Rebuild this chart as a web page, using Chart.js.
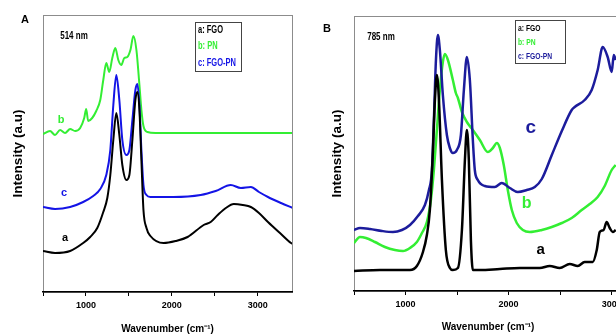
<!DOCTYPE html>
<html>
<head>
<meta charset="utf-8">
<script src="https://cdn.jsdelivr.net/npm/chart.js@4.4.0/dist/chart.umd.min.js"></script>
<style>
html, body { margin: 0; padding: 0; background: #fff; overflow: hidden; }
#wrap { position: relative; width: 616px; height: 335px; overflow: hidden; }
#ca { position: absolute; left: 0; top: 0; }
#cb { position: absolute; left: 308px; top: 0; }
</style>
</head>
<body>
<div id="wrap">
  <canvas id="ca" width="308" height="335"></canvas>
  <canvas id="cb" width="330" height="335"></canvas>
</div>
<script>
// Panel A, 514 nm excitation
var waveA_FGO = [500, 640, 816, 968, 1050, 1132, 1202, 1249, 1284, 1319, 1354, 1389, 1424, 1471, 1506, 1541, 1576, 1599, 1623, 1646, 1670, 1705, 1751, 1904, 2044, 2184, 2371, 2453, 2535, 2629, 2722, 2827, 2921, 3015, 3120, 3272, 3389, 3412];
var intA_FGO = [41, 39, 41, 49, 55, 64, 80, 94, 117, 152, 179, 157, 127, 112, 117, 152, 192, 200, 182, 132, 82, 64, 56, 49, 51, 55, 67, 70, 77, 84, 88, 87, 85, 79, 70, 58, 49, 48];

var waveA_PN = [500, 582, 640, 699, 757, 816, 874, 933, 980, 1003, 1026, 1073, 1120, 1167, 1202, 1237, 1272, 1307, 1342, 1377, 1412, 1447, 1482, 1518, 1553, 1588, 1623, 1646, 1670, 1716, 1810, 1985, 2336, 2804, 3412];
var intA_PN = [158, 161, 157, 162, 159, 163, 161, 164, 174, 183, 171, 174, 181, 192, 212, 229, 220, 234, 244, 232, 227, 234, 235, 242, 256, 242, 207, 182, 166, 160, 159, 159, 159, 159, 159];

var waveA_FGOPN = [500, 640, 816, 968, 1085, 1167, 1237, 1284, 1319, 1354, 1389, 1424, 1471, 1506, 1541, 1576, 1599, 1623, 1646, 1670, 1705, 1751, 2020, 2336, 2511, 2687, 2804, 2921, 3015, 3120, 3272, 3412];
var intA_FGOPN = [85, 83, 85, 90, 96, 103, 117, 142, 187, 217, 192, 152, 137, 142, 172, 202, 208, 187, 142, 107, 97, 95, 95, 97, 101, 107, 104, 105, 100, 95, 89, 84];

// Panel B, 785 nm excitation
var waveB_FGO = [500, 752, 1043, 1110, 1169, 1207, 1236, 1266, 1285, 1304, 1324, 1353, 1391, 1430, 1459, 1508, 1547, 1576, 1595, 1614, 1634, 1653, 1721, 1915, 2109, 2302, 2399, 2496, 2593, 2671, 2738, 2816, 2855, 2884, 2922, 2951, 2981, 3010, 3039];
var intB_FGO = [20, 21, 21, 25, 39, 56, 81, 141, 191, 216, 191, 111, 41, 23, 21, 23, 61, 131, 161, 131, 51, 21, 21, 22, 23, 23, 25, 23, 27, 25, 29, 29, 41, 59, 61, 69, 63, 59, 61];

var waveB_PN = [500, 558, 616, 703, 800, 897, 975, 1043, 1110, 1159, 1207, 1246, 1275, 1304, 1333, 1362, 1382, 1411, 1459, 1488, 1508, 1547, 1595, 1653, 1721, 1798, 1847, 1886, 1915, 1953, 1992, 2031, 2079, 2138, 2205, 2322, 2419, 2516, 2612, 2709, 2787, 2864, 2932, 3000, 3039];
var intB_PN = [48, 54, 53, 49, 44, 41, 40, 43, 49, 58, 69, 91, 121, 161, 201, 229, 237, 231, 211, 198, 193, 179, 169, 161, 151, 139, 143, 148, 143, 126, 101, 81, 68, 61, 59, 61, 64, 68, 73, 81, 87, 94, 105, 121, 126];

var waveB_FGOPN = [500, 558, 655, 771, 878, 965, 1043, 1120, 1188, 1227, 1256, 1275, 1295, 1314, 1333, 1362, 1401, 1430, 1459, 1498, 1537, 1566, 1595, 1624, 1653, 1672, 1701, 1769, 1866, 1934, 2012, 2089, 2176, 2254, 2322, 2419, 2516, 2612, 2641, 2738, 2806, 2864, 2913, 2961, 3000, 3020, 3039];
var intB_FGOPN = [61, 63, 62, 60, 59, 61, 66, 75, 86, 101, 121, 171, 231, 256, 241, 196, 156, 143, 138, 141, 156, 201, 234, 211, 151, 121, 111, 105, 104, 108, 103, 99, 101, 104, 112, 136, 160, 181, 184, 191, 201, 221, 244, 234, 219, 236, 231];

var tickMarksX = [500, 1000, 1500, 2000, 2500, 3000];
var tickLabelsX = [1000, 2000, 3000];

var GREEN = '#33ee33';
var BLUE_A = '#1414e6';
var BLUE_B = '#1c1c9c';
var SANS = "'Liberation Sans', Arial, sans-serif";

function pts(xs, ys) {
  return xs.map(function (x, i) { return { x: x, y: ys[i] }; });
}

function line(label, xs, ys, color, width) {
  return {
    label: label,
    data: pts(xs, ys),
    borderColor: color,
    borderWidth: width,
    pointRadius: 0,
    fill: false,
    cubicInterpolationMode: 'monotone'
  };
}

// narrow text, like the squeezed fonts of the original figure
function squeezed(ctx, text, x, y, sx) {
  ctx.save();
  ctx.translate(x, y);
  ctx.scale(sx, 1);
  ctx.fillText(text, 0, 0);
  ctx.restore();
}

// grey frame around the plot area
var framePlugin = {
  id: 'frame',
  beforeDraw: function (chart) {
    var a = chart.chartArea, ctx = chart.ctx;
    ctx.save();
    ctx.strokeStyle = '#8c8c8c';
    ctx.lineWidth = 1;
    ctx.strokeRect(a.left + 0.5, a.top + 0.5, a.right - a.left, a.bottom - a.top);
    ctx.restore();
  }
};

// panel letter, laser line, legend box and curve labels
var notesPlugin = {
  id: 'notes',
  afterDraw: function (chart, args, o) {
    var a = chart.chartArea, ctx = chart.ctx;
    var sx = chart.scales.x, sy = chart.scales.y;
    ctx.save();
    ctx.textBaseline = 'middle';
    ctx.textAlign = 'center';
    ctx.fillStyle = '#000';
    ctx.font = 'bold 11px ' + SANS;
    ctx.fillText(o.panel, a.left + o.panelPos[0], a.top + o.panelPos[1]);

    ctx.font = 'bold 10px ' + SANS;
    squeezed(ctx, o.wl, a.left + o.wlPos[0], a.top + o.wlPos[1], 0.8);

    var b = o.box;
    ctx.strokeStyle = '#444';
    ctx.lineWidth = 1;
    ctx.strokeRect(a.left + b[0] + 0.5, a.top + b[1] + 0.5, b[2], b[3]);
    ctx.textAlign = 'left';
    ctx.font = o.legendFont;
    o.legend.forEach(function (e, i) {
      ctx.fillStyle = e.c;
      squeezed(ctx, e.t, a.left + b[0] + 3, a.top + b[1] + o.legendFirst + i * o.legendStep, 0.75);
    });

    ctx.textAlign = 'center';
    o.labels.forEach(function (l) {
      ctx.fillStyle = l.c;
      ctx.font = 'bold ' + l.s + 'px ' + SANS;
      ctx.fillText(l.t, sx.getPixelForValue(l.x), sy.getPixelForValue(l.y));
    });
    ctx.restore();
  }
};

function makeChart(id, p) {
  return new Chart(document.getElementById(id), {
    type: 'line',
    data: { datasets: p.datasets },
    options: {
      responsive: false,
      animation: false,
      layout: { padding: { left: 0, top: p.top, right: p.right, bottom: 0 } },
      scales: {
        x: {
          type: 'linear',
          min: p.xmin,
          max: p.xmax,
          afterFit: function (s) { s.height = p.xh; },
          afterBuildTicks: function (s) {
            s.ticks = tickMarksX.map(function (v) { return { value: v }; });
          },
          ticks: {
            autoSkip: false,
            maxRotation: 0,
            padding: 4,
            color: '#000',
            font: { family: SANS, size: 9, weight: 'bold' },
            callback: function (v) { return tickLabelsX.indexOf(v) >= 0 ? String(v) : ''; }
          },
          grid: { drawOnChartArea: false, drawTicks: true, tickLength: 4, tickColor: '#000', tickWidth: 1 },
          border: { display: true, color: '#000', width: 1.5 },
          title: {
            display: true,
            text: 'Wavenumber (cm\u207B\u00B9)',
            color: '#000',
            font: { family: SANS, size: 10, weight: 'bold', lineHeight: 1 },
            padding: { top: 0, bottom: p.xtPad }
          }
        },
        y: {
          min: 0,
          max: p.ymax,
          afterFit: function (s) { s.width = p.yw; },
          ticks: { display: false },
          grid: { display: false },
          border: { display: false },
          title: {
            display: true,
            text: 'Intensity (a.u)',
            color: '#000',
            font: { family: SANS, size: 13.5, weight: 'bold' },
            padding: { top: p.ytPad, bottom: 0 }
          }
        }
      },
      plugins: {
        legend: { display: false },
        tooltip: { enabled: false },
        notes: p.notes
      }
    },
    plugins: [framePlugin, notesPlugin]
  });
}

makeChart('ca', {
  xmin: 500, xmax: 3400, ymax: 277,
  top: 15, right: 16, xh: 43, yw: 43, xtPad: 1, ytPad: 10,
  datasets: [
    line('a: FGO', waveA_FGO, intA_FGO, '#000', 2),
    line('c: FGO-PN', waveA_FGOPN, intA_FGOPN, BLUE_A, 2),
    line('b: PN', waveA_PN, intA_PN, GREEN, 2)
  ],
  notes: {
    panel: 'A', panelPos: [-18, 5],
    wl: '514 nm', wlPos: [31, 21],
    box: [152, 7, 46, 49], legendFont: 'bold 10px ' + SANS, legendFirst: 8, legendStep: 16.5,
    legend: [{ t: 'a: FGO', c: '#000' }, { t: 'b: PN', c: GREEN }, { t: 'c: FGO-PN', c: BLUE_A }],
    labels: [
      { t: 'b', x: 711, y: 172, c: GREEN, s: 11 },
      { t: 'c', x: 746, y: 99, c: BLUE_A, s: 11 },
      { t: 'a', x: 757, y: 54, c: '#000', s: 11 }
    ]
  }
});

makeChart('cb', {
  xmin: 500, xmax: 3100, ymax: 275,
  top: 16, right: 16, xh: 44, yw: 46, xtPad: 3, ytPad: 21,
  datasets: [
    line('a: FGO', waveB_FGO, intB_FGO, '#000', 2.5),
    line('c: FGO-PN', waveB_FGOPN, intB_FGOPN, BLUE_B, 2.5),
    line('b: PN', waveB_PN, intB_PN, GREEN, 2.5)
  ],
  notes: {
    panel: 'B', panelPos: [-27, 13],
    wl: '785 nm', wlPos: [27, 21],
    box: [161, 4, 50, 43], legendFont: 'bold 9px ' + SANS, legendFirst: 9, legendStep: 14,
    legend: [{ t: 'a: FGO', c: '#000' }, { t: 'b: PN', c: GREEN }, { t: 'c: FGO-PN', c: BLUE_B }],
    labels: [
      { t: 'c', x: 2215, y: 163, c: BLUE_B, s: 19 },
      { t: 'b', x: 2176, y: 87, c: GREEN, s: 16 },
      { t: 'a', x: 2312, y: 41, c: '#000', s: 15 }
    ]
  }
});
</script>
</body>
</html>
